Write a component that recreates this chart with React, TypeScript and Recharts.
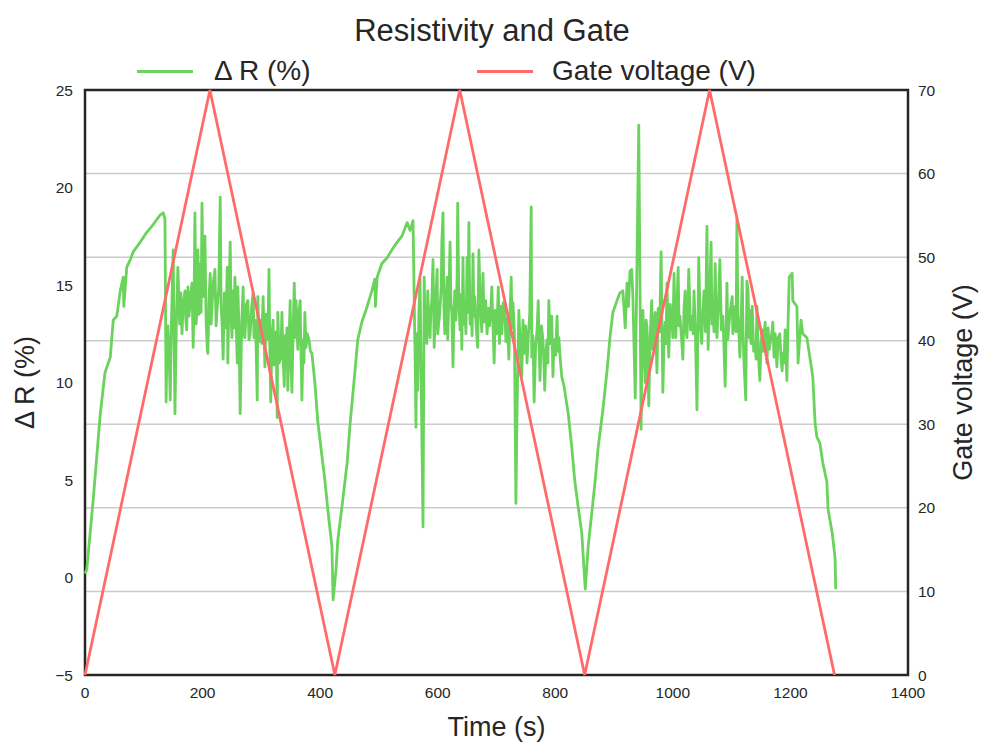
import React from "react";
import {
  LineChart,
  Line,
  XAxis,
  YAxis,
  CartesianGrid,
  ReferenceArea,
} from "recharts";

// Time stamps (s) of the resistance readings
const deltaTime = [
  // first sweep: rise
  0, 3, 14, 26, 34, 43, 48, 54, 60, 65, 66, 71, 77, 82, 94, 105, 116, 128, 133, 136,
  // first sweep: noisy plateau
  138, 139.5, 141, 143, 145, 147, 150, 151.5, 153, 155.5, 158, 161, 163, 165, 167, 170, 171.5, 173, 175, 177,
  179, 182, 184, 185.5, 187, 189, 191, 192, 194, 196, 197.5, 199, 201, 202.5, 204, 206, 208, 209, 211, 213,
  214.5, 216, 218.5, 221, 223, 225, 227.5, 230, 231.5, 233, 235, 237, 239.5, 242, 243, 245, 247, 248.5, 250, 252,
  253.5, 255, 257, 259, 260, 262, 264, 266.5, 269, 270.5, 272, 274.5, 277, 279, 281, 283.5, 286, 287.5, 289, 291,
  293, 294, 296, 298, 300.5, 303, 304.5, 306, 308, 310, 311.5, 313, 314.5, 316, 318, 320, 321.5, 323, 325, 327,
  328, 330.5, 333, 335, 337, 339, 340.5, 342, 343.5, 345, 347, 349, 350.5, 352, 354, 356, 357.5, 359, 360.5, 362,
  364, 366, 367.5, 369, 371, 372.5, 374, 376, 378, 381, 383.5, 386, 391, 396,
  // drop and second rise
  408, 413, 420, 422, 427, 430, 437, 446, 451, 459, 464, 471, 480, 488, 493, 494, 497, 505, 514, 522,
  531, 539, 548, 553, 558,
  // second plateau
  561, 562, 563, 564, 565, 566, 568, 570, 571.5, 573, 575, 577, 578.5, 580, 581.5, 583, 585, 587, 588.5, 590,
  592, 594, 596.5, 599, 600, 603, 606, 607, 609, 610.5, 612, 614, 616, 617, 619, 621, 622.5, 624, 626, 627.5,
  629, 631, 633, 634, 636, 638, 639.5, 641, 643, 644.5, 646, 648, 650, 651.5, 653, 655, 657, 658.5, 660, 661.5,
  663, 665.5, 668, 670, 672.5, 675, 677, 679, 681.5, 684, 686, 688, 690, 692, 694, 696, 698, 700.5, 703, 705,
  707, 709, 711.5, 714, 716, 718.5, 721, 723, 725, 726.5, 728, 730.5, 733, 735, 738, 740.5, 743, 745, 747, 749.5,
  752, 754, 756.5, 759, 760, 762, 764, 766.5, 769, 771, 772.5, 774, 776.5, 779, 780.5, 782, 784, 786, 787.5, 789,
  791.5, 794, 796, 798, 800.5, 803, 804.5, 806, 808.5, 811, 815,
  // drop and third rise
  822, 828, 833, 839, 845, 851, 856, 862, 868, 873, 881, 888, 893, 898, 905, 910, 915,
  // third plateau
  919, 922, 924.5, 927, 930, 932, 936, 939, 942, 946, 947.5, 949, 951, 953, 954.5, 956, 957.5, 959, 961.5, 964,
  966, 968, 970, 971.5, 973, 975, 977.5, 980, 981.5, 983, 985, 987, 988.5, 990, 991.5, 993, 995.5, 998, 1000, 1002,
  1003.5, 1005, 1007, 1009, 1010.5, 1012, 1014.5, 1017, 1019, 1021, 1022.5, 1024, 1025.5, 1027, 1030, 1033, 1034.5, 1036, 1038.5, 1041,
  1044, 1046.5, 1049, 1051, 1053, 1055.5, 1058, 1060, 1062.5, 1065, 1066.5, 1068, 1070, 1072, 1073.5, 1075, 1077.5, 1080, 1082.5, 1085,
  1087, 1089, 1092, 1093.5, 1095, 1098, 1101, 1102, 1104, 1106, 1107.5, 1109, 1110.5, 1112, 1114, 1116, 1118, 1119.5, 1121, 1124,
  1126, 1128, 1129.5, 1131, 1133, 1135, 1137.5, 1140, 1141.5, 1143, 1145.5, 1148, 1150, 1152, 1153, 1155, 1157, 1158.5, 1160, 1162,
  1164, 1166.5, 1169, 1170, 1172, 1174, 1177, 1179, 1182, 1184, 1186, 1187, 1189, 1191, 1194, 1196, 1198,
  // last bump and final drop
  1203, 1204, 1211, 1213, 1218, 1221, 1228, 1233, 1238, 1242, 1245, 1250, 1255, 1262, 1264, 1271, 1276, 1277,
];

// Relative resistance change (%)
const deltaR = [
  0.2, 0.4, 4.0, 8.4, 10.5, 11.3, 13.2, 13.4, 14.7, 15.4, 13.9, 15.9, 16.3, 16.7, 17.2, 17.7, 18.1, 18.6, 18.7, 18.4,
  9.0, 12.0, 12.9, 11.5, 9.1, 13.0, 16.8, 12.5, 8.4, 13.2, 15.9, 13.0, 14.6, 12.5, 14.0, 14.7, 13.2, 12.7, 14.9, 13.4,
  14.3, 15.1, 11.8, 14.2, 18.7, 13.0, 13.9, 16.8, 13.5, 16.1, 13.6, 19.2, 14.4, 15.8, 17.5, 13.2, 11.7, 11.5, 14.3, 15.6,
  13.0, 13.9, 15.2, 15.8, 12.9, 13.9, 14.8, 19.5, 14.0, 13.1, 11.2, 14.6, 12.8, 15.9, 11.0, 14.5, 17.2, 13.5, 12.3, 14.7,
  12.8, 15.4, 13.3, 11.0, 14.9, 12.6, 8.4, 13.0, 14.9, 12.4, 12.3, 14.0, 14.2, 12.2, 12.5, 13.9, 14.6, 12.3, 13.2, 12.0,
  9.1, 14.4, 12.1, 13.2, 12.0, 14.4, 12.6, 10.8, 13.5, 12.2, 13.0, 15.8, 11.5, 9.0, 12.4, 13.2, 10.9, 11.2, 12.6, 8.2,
  13.6, 11.0, 11.3, 13.6, 11.2, 9.8, 12.4, 11.7, 12.8, 9.6, 12.0, 14.2, 11.0, 9.5, 12.6, 15.1, 12.3, 14.2, 12.8, 11.7,
  13.6, 14.2, 11.4, 9.1, 12.2, 11.0, 13.6, 11.8, 12.5, 12.2, 11.6, 11.5, 10.0, 8.0,
  5.0, 3.5, 1.6, -1.15, 0.4, 1.9, 3.6, 5.9, 7.9, 10.5, 12.2, 13.1, 13.9, 14.7, 15.3, 13.9, 15.4, 16.1, 16.4, 16.8,
  17.2, 17.5, 18.2, 17.8, 18.3,
  12.3, 10.5, 7.7, 11.0, 12.5, 9.6, 13.5, 15.3, 11.0, 7.4, 2.6, 15.4, 12.4, 13.1, 12.0, 14.7, 13.0, 12.3, 13.8, 14.2,
  16.3, 11.8, 14.0, 15.8, 12.5, 13.4, 14.9, 17.2, 18.7, 13.9, 12.5, 14.0, 15.4, 12.2, 14.4, 17.2, 14.1, 13.6, 10.8, 13.3,
  14.7, 13.2, 15.4, 19.2, 14.0, 12.7, 14.5, 11.7, 16.4, 13.0, 13.9, 12.5, 16.4, 13.6, 18.2, 13.0, 13.7, 12.4, 16.6, 13.4,
  14.4, 12.8, 11.8, 16.8, 13.9, 12.6, 15.6, 13.1, 14.2, 12.5, 13.8, 12.9, 13.5, 14.9, 12.9, 11.0, 13.7, 12.5, 14.9, 12.0,
  13.9, 12.5, 14.1, 13.9, 12.1, 13.3, 11.2, 13.5, 15.4, 12.8, 14.1, 12.5, 3.8, 8.6, 13.7, 11.8, 10.3, 13.2, 11.5, 12.9,
  11.0, 12.3, 13.5, 19.0, 11.3, 12.4, 9.0, 11.8, 12.7, 14.2, 11.9, 10.1, 12.9, 12.2, 11.1, 9.6, 11.5, 12.2, 11.0, 14.2,
  12.0, 13.4, 10.3, 12.2, 11.4, 13.4, 11.6, 12.3, 11.2, 10.3, 9.8,
  8.4, 6.7, 5.0, 3.6, 2.3, -0.6, 1.6, 3.3, 5.0, 6.7, 8.6, 10.6, 12.3, 13.6, 14.2, 14.6, 14.7,
  12.8, 15.1, 13.9, 15.7, 15.8, 14.4, 9.2, 16.3, 23.2, 7.6, 12.0, 13.7, 11.6, 10.0, 13.2, 12.8, 11.3, 8.8, 12.4, 14.2,
  11.7, 12.9, 13.6, 12.0, 10.5, 13.8, 12.6, 16.7, 12.9, 9.5, 12.2, 13.1, 12.0, 15.1, 12.9, 11.3, 14.0, 13.4, 12.3, 15.6,
  13.2, 12.3, 14.1, 15.9, 12.9, 13.4, 12.4, 11.2, 13.8, 14.7, 12.6, 12.3, 13.7, 15.8, 12.7, 13.4, 12.5, 14.7, 12.3, 8.6,
  16.4, 13.1, 12.0, 13.6, 14.7, 12.6, 18.0, 11.7, 14.4, 17.2, 13.0, 13.7, 12.6, 16.1, 13.3, 12.3, 14.0, 16.3, 12.7, 13.4,
  11.8, 9.8, 15.1, 12.2, 12.8, 13.8, 14.4, 12.5, 13.2, 13.9, 12.6, 18.4, 13.6, 12.8, 11.3, 13.0, 15.4, 12.5, 11.0, 9.1,
  15.2, 14.7, 12.3, 13.7, 12.0, 13.9, 11.6, 12.0, 11.2, 13.9, 11.4, 10.1, 12.0, 12.7, 11.6, 12.4, 13.1, 11.5, 11.0, 12.8,
  11.7, 12.2, 12.7, 13.1, 11.3, 12.5, 10.8, 12.3, 12.5, 11.2, 10.6, 11.5, 11.0, 12.7, 10.1, 13.1, 15.4,
  15.6, 14.2, 13.9, 11.0, 13.2, 12.5, 12.3, 11.3, 10.3, 7.9, 7.2, 6.9, 5.9, 4.9, 3.5, 2.3, 1.0, -0.6,
];

// Gate sweep turning points: time (s) and voltage (V)
const gateTime = [0, 212.5, 425, 637.5, 850, 1062.5, 1275];
const gateVoltage = [0, 70, 0, 70, 0, 70, 0];

const xTicks = [0, 200, 400, 600, 800, 1000, 1200, 1400];
const leftTicks = [-5, 0, 5, 10, 15, 20, 25];
const rightTicks = [0, 10, 20, 30, 40, 50, 60, 70];

const deltaData = deltaTime.map((t, i) => ({ t, v: deltaR[i] }));
const gateData = gateTime.map((t, i) => ({ t, g: gateVoltage[i] }));

const GREEN = "#6ad35c";
const RED = "#ff6b6b";
const INK = "#262626";
const FONT = "'Liberation Sans', Arial, sans-serif";

const fmtTick = (v: number) => (v < 0 ? "\u2212" + Math.abs(v) : String(v));

export default function App() {
  return (
    <div style={{ position: "absolute", left: 0, top: 0, width: 984, height: 744, background: "#fff", fontFamily: FONT }}>
      <div
        style={{
          position: "absolute",
          left: 0,
          width: 984,
          top: 12,
          textAlign: "center",
          fontSize: 31,
          color: INK,
          lineHeight: "38px",
        }}
      >
        Resistivity and Gate
      </div>
      {/* legend */}
      <div style={{ position: "absolute", left: 137, top: 70, width: 56, height: 3, background: GREEN }} />
      <div style={{ position: "absolute", left: 214, top: 55, fontSize: 28, color: INK, lineHeight: "32px" }}>
        Δ R (%)
      </div>
      <div style={{ position: "absolute", left: 477, top: 70, width: 56, height: 3, background: RED }} />
      <div style={{ position: "absolute", left: 552, top: 55, fontSize: 28, color: INK, lineHeight: "32px" }}>
        Gate voltage (V)
      </div>
      <LineChart
        width={984}
        height={744}
        margin={{ top: 90, right: 0, bottom: 0, left: 0 }}
        style={{ fontFamily: FONT }}
      >
        <CartesianGrid yAxisId="right" vertical={false} stroke="#cccccc" strokeWidth={1.5} />
        <XAxis
          dataKey="t"
          type="number"
          domain={[0, 1400]}
          ticks={xTicks}
          height={69}
          tickLine={false}
          tickSize={0}
          axisLine={false}
          tickMargin={12}
          tick={{ fill: INK, fontSize: 15.5 }}
          allowDuplicatedCategory={false}
          label={{ value: "Time (s)", position: "insideBottom", offset: 8, fill: INK, fontSize: 27 }}
        />
        <YAxis
          yAxisId="left"
          domain={[-5, 25]}
          ticks={leftTicks}
          width={85}
          tickLine={false}
          tickSize={0}
          axisLine={false}
          tickMargin={12}
          tickFormatter={fmtTick}
          tick={{ fill: INK, fontSize: 15.5 }}
          label={{ value: "Δ R (%)", angle: -90, position: "insideLeft", offset: 24, fill: INK, fontSize: 27, style: { textAnchor: "middle" } }}
        />
        <YAxis
          yAxisId="right"
          orientation="right"
          domain={[0, 70]}
          ticks={rightTicks}
          width={76}
          tickLine={false}
          tickSize={0}
          axisLine={false}
          tickMargin={10}
          tick={{ fill: INK, fontSize: 15.5 }}
          label={{ value: "Gate voltage (V)", angle: -90, position: "insideRight", offset: 22, fill: INK, fontSize: 27, style: { textAnchor: "middle" } }}
        />
        <Line
          yAxisId="left"
          data={deltaData}
          dataKey="v"
          stroke={GREEN}
          strokeWidth={2.8}
          dot={false}
          isAnimationActive={false}
          strokeLinejoin="round"
        />
        <Line
          yAxisId="right"
          data={gateData}
          dataKey="g"
          stroke={RED}
          strokeWidth={2.8}
          dot={false}
          isAnimationActive={false}
        />
        <ReferenceArea
          yAxisId="left"
          x1={0}
          x2={1400}
          y1={-5}
          y2={25}
          fill="none"
          stroke={INK}
          strokeWidth={2.5}
          ifOverflow="visible"
        />
      </LineChart>
    </div>
  );
}
